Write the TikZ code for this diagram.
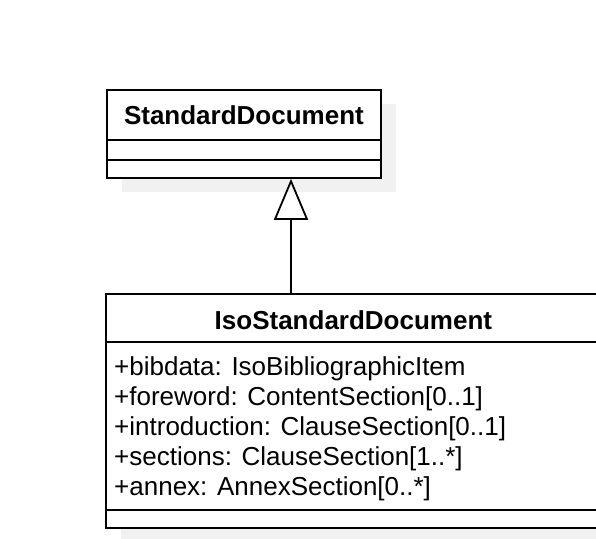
\documentclass[tikz,border=0pt]{standalone}
\usepackage{fontspec}
\setmainfont{Liberation Sans}
\usetikzlibrary{arrows.meta, positioning, shadows}
\definecolor{UInk}{HTML}{000000}
\definecolor{UShade}{HTML}{F1F1F1}

\begin{document}
\begin{tikzpicture}[
  x=1pt, y=-1pt,
  font=\fontsize{26}{30}\selectfont,
  cls/.style={rectangle, draw=UInk, line width=1.8pt, fill=white,
              anchor=north west, inner sep=0pt,
              drop shadow={shadow xshift=15pt, shadow yshift=-14pt,
                           fill=UShade, opacity=1}},
  cname/.style={font=\fontsize{26}{30}\selectfont\bfseries, inner sep=0pt},
  attr/.style={align=left, anchor=north west, inner sep=0pt},
  sep/.style={draw=UInk, line width=1.8pt},
  inherit/.style={-{Triangle[open, length=41pt, width=34pt, line width=1.8pt]},
                  draw=UInk, line width=1.8pt},
]
\useasboundingbox (0,0) rectangle (596,538);

% ── superclass ───────────────────────────────────────────────────────────
\node[cls, minimum width=274pt, minimum height=88pt] (std) at (106,89) {};
\node[cname] (stdname) at ([yshift=-26pt]std.north) {StandardDocument};
\draw[sep] ([yshift=-51pt]std.north west) -- ([yshift=-51pt]std.north east);
\draw[sep] ([yshift=-71pt]std.north west) -- ([yshift=-71pt]std.north east);

% ── subclass ─────────────────────────────────────────────────────────────
\node[cls, minimum width=495pt, minimum height=234pt] (iso) at (105,293) {};
\node[cname] (isoname) at ([yshift=-27pt]iso.north) {IsoStandardDocument};
\draw[sep] ([yshift=-49pt]iso.north west) -- ([yshift=-49pt]iso.north east);
\draw[sep] ([yshift=-217pt]iso.north west) -- ([yshift=-217pt]iso.north east);

\node[attr] (isoattr) at (114,356)
  {+bibdata: IsoBibliographicItem\\
   +foreword: ContentSection[0..1]\\
   +introduction: ClauseSection[0..1]\\
   +sections: ClauseSection[1..*]\\
   +annex: AnnexSection[0..*]};

% ── generalisation ───────────────────────────────────────────────────────
\coordinate (ax) at (291,0);
\draw[inherit] (iso.north -| ax) -- (std.south -| ax);

\end{tikzpicture}
\end{document}
